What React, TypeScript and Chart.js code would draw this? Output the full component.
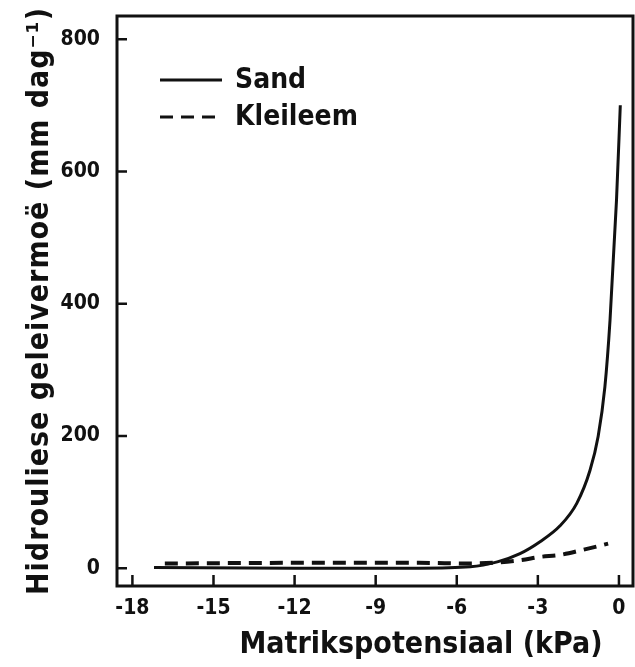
import { useEffect, useRef } from "react";
import { Chart, registerables } from "chart.js";

Chart.register(...registerables);

// Matric potential (kPa) against hydraulic conductivity (mm/day)
const X_TICKS = [-18, -15, -12, -9, -6, -3, 0];
const Y_TICKS = [0, 200, 400, 600, 800];

const SAND_X = [-17.2, -12, -7.4, -5.5, -4.5, -3.66, -2.92, -2.18, -1.56, -1.07, -0.77, -0.52, -0.33, -0.09, 0.05];
const SAND_Y = [1, 0, 0, 2, 9.5, 22, 40, 64, 98, 148, 199, 274, 375, 557, 700];

const KLEI_X = [-16.8, -12, -7.4, -5.5, -3.66, -2.92, -2.18, -1.3, -0.4];
const KLEI_Y = [7, 8, 8, 7, 12, 17, 20, 28, 37];

const SERIES_NAMES = ["Sand", "Kleileem"];
const X_TITLE = "Matrikspotensiaal (kPa)";
const Y_TITLE = "Hidrouliese geleivermoë (mm dag⁻¹)";

const FAMILY = '"DejaVu Sans Condensed", "DejaVu Sans", sans-serif';
const INK = "#111";

const toPoints = (xs: number[], ys: number[]) => xs.map((x, i) => ({ x, y: ys[i] }));

// Frame, inward tick marks, in-plot legend and axis titles
const decorations = {
  id: "decorations",
  afterDatasetsDraw(chart: any) {
    const { ctx, chartArea } = chart;
    const { left, right, top, bottom } = chartArea;
    const xs = chart.scales.x;
    const ys = chart.scales.y;
    ctx.save();
    ctx.strokeStyle = INK;
    ctx.lineWidth = 3;
    ctx.setLineDash([]);
    ctx.strokeRect(left, top, right - left, bottom - top);

    ctx.lineWidth = 2.5;
    ctx.beginPath();
    for (const v of Y_TICKS) {
      const py = ys.getPixelForValue(v);
      ctx.moveTo(left, py);
      ctx.lineTo(left + 10, py);
    }
    for (const v of X_TICKS) {
      const px = xs.getPixelForValue(v);
      ctx.moveTo(px, bottom);
      ctx.lineTo(px, bottom - 11);
    }
    ctx.stroke();

    // legend
    ctx.font = `bold 28px ${FAMILY}`;
    ctx.fillStyle = INK;
    ctx.textBaseline = "middle";
    ctx.textAlign = "left";
    chart.data.datasets.forEach((ds: any, i: number) => {
      const y = 80 + i * 37;
      ctx.lineWidth = 3;
      ctx.setLineDash(ds.borderDash || []);
      ctx.beginPath();
      ctx.moveTo(160, y);
      ctx.lineTo(222, y);
      ctx.stroke();
      ctx.setLineDash([]);
      ctx.fillText(ds.label, 235, y + 1);
    });

    // axis titles
    ctx.font = `bold 30px ${FAMILY}`;
    ctx.textAlign = "center";
    ctx.fillText(X_TITLE, 421, 645);
    ctx.translate(40, (top + bottom) / 2);
    ctx.rotate(-Math.PI / 2);
    (ctx as any).letterSpacing = "1px";
    ctx.fillText(Y_TITLE, 0, 0);
    ctx.restore();
  },
};

export default function App() {
  const ref = useRef<HTMLCanvasElement>(null);

  useEffect(() => {
    if (!ref.current) return;
    const chart = new Chart(ref.current, {
      type: "scatter",
      data: {
        datasets: [
          {
            label: SERIES_NAMES[0],
            data: toPoints(SAND_X, SAND_Y),
            showLine: true,
            borderColor: INK,
            borderWidth: 3,
            pointRadius: 0,
            cubicInterpolationMode: "monotone",
          },
          {
            label: SERIES_NAMES[1],
            data: toPoints(KLEI_X, KLEI_Y),
            showLine: true,
            borderColor: INK,
            borderWidth: 4,
            borderDash: [13, 8],
            pointRadius: 0,
            cubicInterpolationMode: "monotone",
          },
        ],
      },
      options: {
        animation: false,
        responsive: false,
        layout: { padding: { top: 16, right: 2, left: 0, bottom: 0 } },
        plugins: { legend: { display: false }, tooltip: { enabled: false } },
        scales: {
          x: {
            type: "linear",
            min: -18.57,
            max: 0.52,
            grid: { display: false, drawTicks: false },
            border: { display: false },
            afterBuildTicks: (s: any) => {
              s.ticks = X_TICKS.map((value) => ({ value }));
            },
            afterFit: (s: any) => {
              s.height = 81;
              s.paddingLeft = 0;
              s.paddingRight = 0;
            },
            ticks: {
              padding: 10,
              color: INK,
              maxRotation: 0,
              font: { family: FAMILY, weight: "bold", size: 21 },
            },
          },
          y: {
            type: "linear",
            min: -27,
            max: 835,
            grid: { display: false, drawTicks: false },
            border: { display: false },
            afterBuildTicks: (s: any) => {
              s.ticks = Y_TICKS.map((value) => ({ value }));
            },
            afterFit: (s: any) => {
              s.width = 117;
              s.paddingTop = 0;
              s.paddingBottom = 0;
            },
            ticks: {
              padding: 17,
              color: INK,
              font: { family: FAMILY, weight: "bold", size: 21 },
            },
          },
        },
      },
      plugins: [decorations],
    });
    return () => chart.destroy();
  }, []);

  return (
    <div style={{ position: "fixed", left: 0, top: 0, width: 635, height: 667, background: "#fff" }}>
      <canvas ref={ref} width={635} height={667} />
    </div>
  );
}
